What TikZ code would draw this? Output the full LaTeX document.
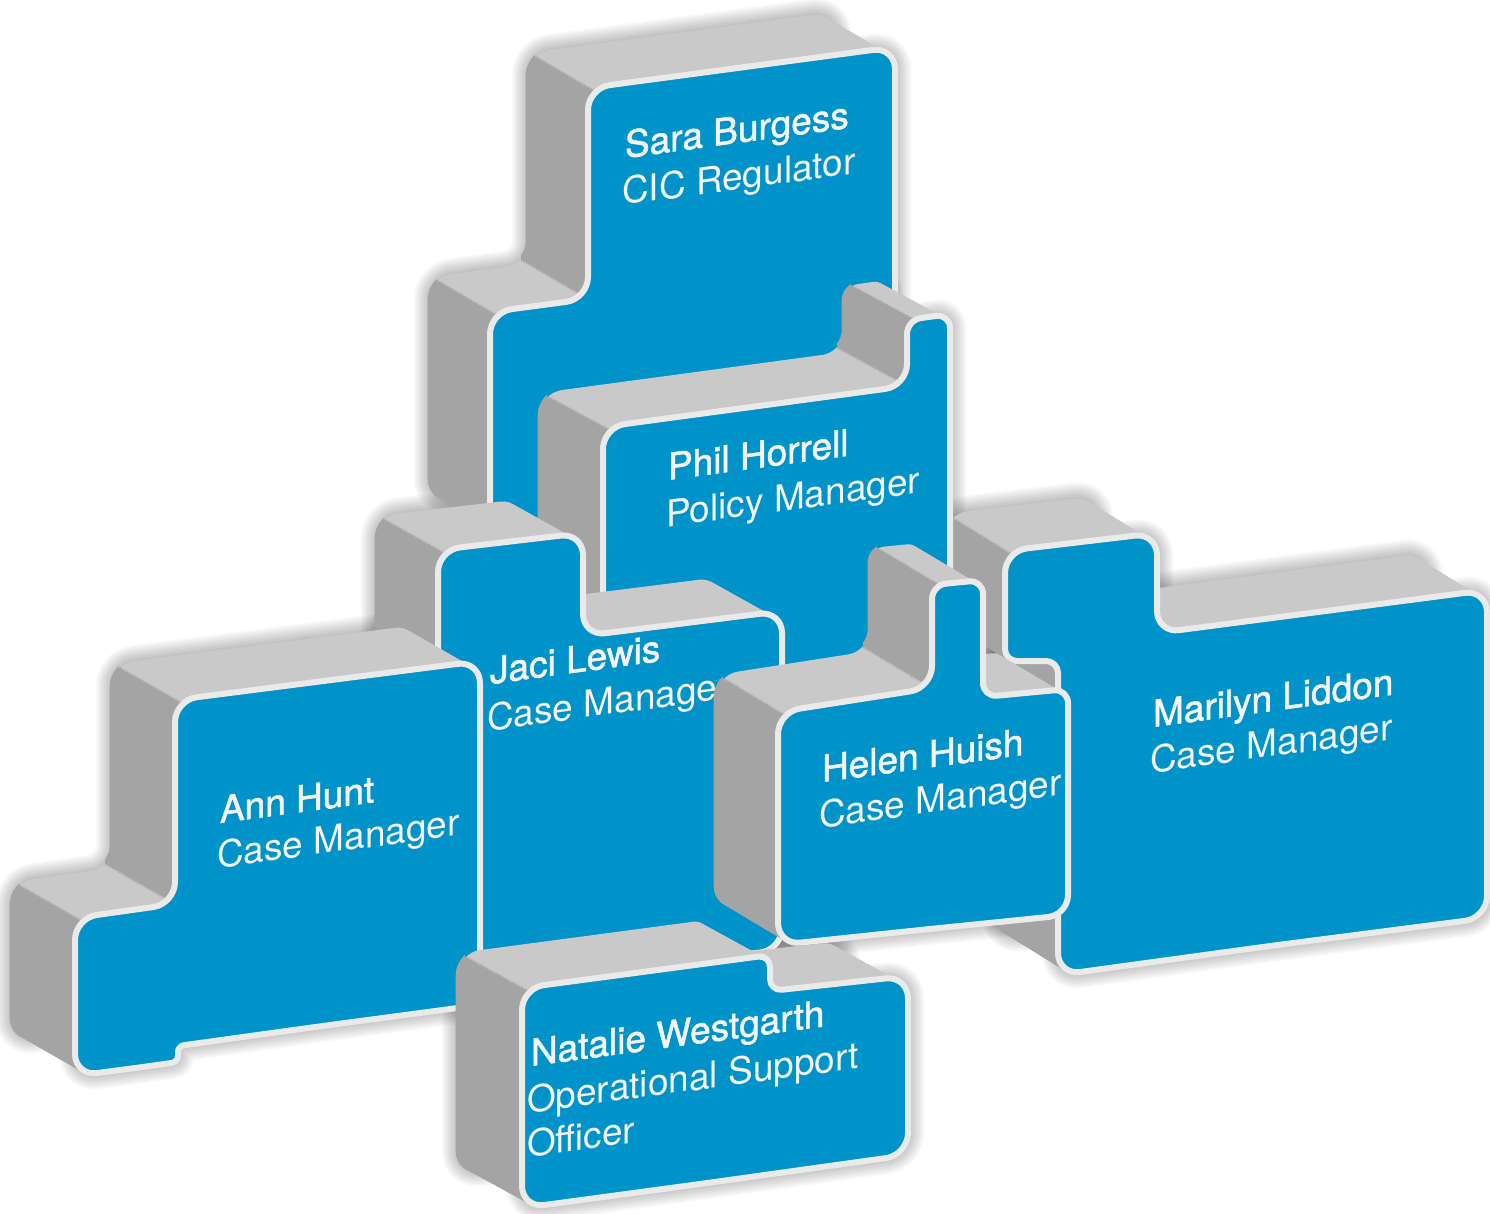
\documentclass[tikz,border=0pt]{standalone}
\usepackage{fontspec}
\setmainfont{TeX Gyre Heros}
\newfontfamily\namefont{TeX Gyre Heros}[FakeBold=1.5]
\definecolor{faceblue}{HTML}{0093C9}
\definecolor{topgray}{HTML}{C9C9C9}
\definecolor{sidegray}{HTML}{A4A4A4}
\definecolor{rimwhite}{HTML}{EAEAEA}
\definecolor{labeltext}{HTML}{F4F4F4}

% Front outlines of the blocks (pixel units, y pointing down)
\def\pathSara{(700,507) -- (490,536) -- (490,312) -- (588,299) -- (588,88) -- (895,47) -- (895,480) -- cycle}
\def\pathPhil{(780,676) -- (603,700) -- (603,427) -- (907,386) [rounded corners=14] -- (907,320) -- (950,314) -- (950,650) [rounded corners=22] -- cycle}
\def\pathJaci{(600,971) -- (438,990) -- (438,550) -- (583,533) -- (583,636) -- (782,611) -- (782,950) -- cycle}
\def\pathAnn{(330,1025) -- (250,1036) [rounded corners=6] -- (178,1046) -- (178,1062) -- (150,1066) [rounded corners=22] -- (75,1076) -- (75,918) -- (175,904) -- (175,700) -- (480,661) -- (480,1005) -- cycle}
\def\pathHelen{(920,930) -- (778,945) -- (778,712) -- (932,688) [rounded corners=14] -- (932,585) -- (983,580) -- (983,697) -- (1068,689) [rounded corners=20] -- (1068,915) -- cycle}
\def\pathMarilyn{(1270,946) -- (1058,975) -- (1058,700) [rounded corners=12] -- (1058,661) -- (1005,661) -- (1005,600) [rounded corners=22] -- (1005,551) -- (1157,533) -- (1157,633) -- (1487,590) -- (1487,918) -- cycle}
\def\pathNatalie{(700,1184) -- (522,1208) -- (522,988) -- (650,971) [rounded corners=12] -- (770,955) -- (770,991) -- (840,983.4) [rounded corners=22] -- (908,976) -- (908,1155) -- cycle}

% soft halo around a block: front outline and its back copy
\newcommand\softshadow[3]{%
  \foreach \w in {4,8,...,32}{%
    \draw[black, opacity=0.03, line width=\w pt, rounded corners=22] #1;
    \draw[black, opacity=0.03, line width=\w pt, rounded corners=22, shift={(#2,#3)}] #1;}}

% extruded sides: stacked copies, lit from above, darker on left faces (#2 = strips of left faces)
\newcommand\extrude[4]{%
  \foreach \i in {36,35,...,1}{%
    \begin{scope}[shift={({\i*(#3)/36},{\i*(#4)/36})}]
      \fill[topgray, rounded corners=22] #1;
      \begin{scope}
        \clip #2;
        \draw[sidegray, line width=4.6pt, rounded corners=22] #1;
      \end{scope}
    \end{scope}}}

\newcommand\frontface[1]{%
  \fill[faceblue, rounded corners=22] #1;
  \draw[rimwhite, line width=6pt, rounded corners=22, line join=round] #1;}

\tikzset{
  personname/.style={anchor=base west, inner sep=0pt, outer sep=0pt, text=labeltext,
    font=\namefont\fontsize{37}{44}\selectfont, yslant=0.135},
  roletext/.style={anchor=base west, inner sep=0pt, outer sep=0pt, text=labeltext,
    font=\fontsize{37}{44}\selectfont, yslant=0.135}
}

\begin{document}
\begin{tikzpicture}[x=1pt,y=-1pt]
\useasboundingbox (0,0) rectangle (1490,1214);
\fill[white] (0,0) rectangle (1490,1214);

% shadows behind everything
\softshadow{\pathSara}{-60}{-35}
\softshadow{\pathMarilyn}{-60}{-37}
\softshadow{\pathPhil}{-63}{-34}
\softshadow{\pathJaci}{-61}{-34}
\softshadow{\pathHelen}{-62}{-37}
\softshadow{\pathAnn}{-63}{-36}
\softshadow{\pathNatalie}{-64}{-35}

% Sara Burgess
\extrude{\pathSara}{(483,308) rectangle (497,540) (581,84) rectangle (595,303)}{-60}{-35}
\frontface{\pathSara}
\begin{scope}[shift={(625,158)}]\node[personname] (saraN) at (0,0) {Sara Burgess};\end{scope}
\begin{scope}[shift={(622,205)}]\node[roletext] (saraR) at (0,0) {CIC Regulator};\end{scope}

% Marilyn Liddon
\extrude{\pathMarilyn}{(998,547) rectangle (1012,665) (1051,657) rectangle (1065,979)}{-60}{-37}
\frontface{\pathMarilyn}
\begin{scope}[shift={(1153,727)}]\node[personname] (marilynN) at (0,0) {Marilyn Liddon};\end{scope}
\begin{scope}[shift={(1150,773)}]\node[roletext] (marilynR) at (0,0) {Case Manager};\end{scope}

% Phil Horrell
\extrude{\pathPhil}{(596,423) rectangle (610,704) (900,316) rectangle (914,390)}{-63}{-34}
\frontface{\pathPhil}
\begin{scope}[shift={(668,480)}]\node[personname] (philN) at (0,0) {Phil Horrell};\end{scope}
\begin{scope}[shift={(666,527)}]\node[roletext] (philR) at (0,0) {Policy Manager};\end{scope}

% Jaci Lewis
\extrude{\pathJaci}{(431,546) rectangle (445,994)}{-61}{-34}
\frontface{\pathJaci}
\begin{scope}[shift={(490,684)}]\node[personname] (jaciN) at (0,0) {Jaci Lewis};\end{scope}
\begin{scope}[shift={(487,731)}]\node[roletext] (jaciR) at (0,0) {Case Manager};\end{scope}

% Helen Huish
\extrude{\pathHelen}{(771,708) rectangle (785,949) (925,581) rectangle (939,692)}{-62}{-37}
\frontface{\pathHelen}
\begin{scope}[shift={(822,782)}]\node[personname] (helenN) at (0,0) {Helen Huish};\end{scope}
\begin{scope}[shift={(819,828)}]\node[roletext] (helenR) at (0,0) {Case Manager};\end{scope}

% Ann Hunt
\extrude{\pathAnn}{(68,914) rectangle (82,1080) (168,696) rectangle (182,908)}{-63}{-36}
\frontface{\pathAnn}
\begin{scope}[shift={(220,823)}]\node[personname] (annN) at (0,0) {Ann Hunt};\end{scope}
\begin{scope}[shift={(217,868)}]\node[roletext] (annR) at (0,0) {Case Manager};\end{scope}

% Natalie Westgarth
\extrude{\pathNatalie}{(515,984) rectangle (529,1212)}{-64}{-35}
\frontface{\pathNatalie}
\begin{scope}[shift={(531,1066)}]\node[personname] (natalieN) at (0,0) {Natalie Westgarth};\end{scope}
\begin{scope}[shift={(527,1113)}]\node[roletext] (natalieR) at (0,0) {Operational Support};\end{scope}
\begin{scope}[shift={(527,1157)}]\node[roletext] (natalieR2) at (0,0) {Officer};\end{scope}
\end{tikzpicture}
\end{document}
